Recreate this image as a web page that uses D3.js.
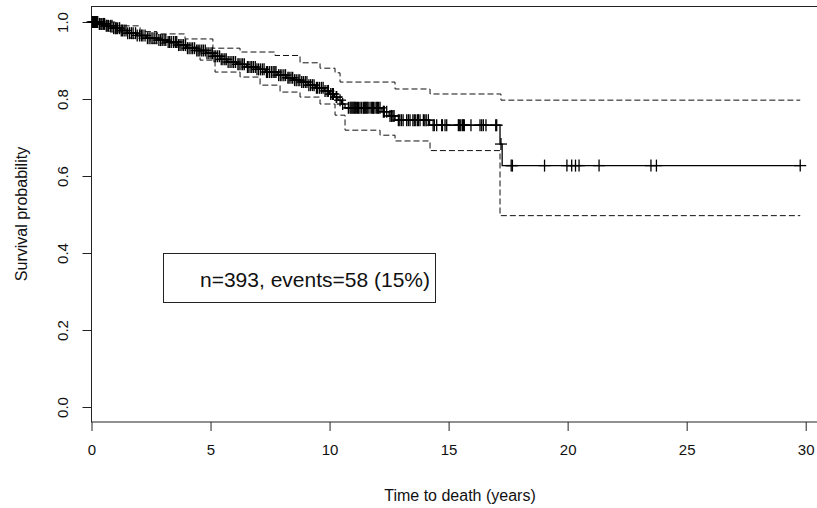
<!DOCTYPE html>
<html><head><meta charset="utf-8">
<script src="https://cdn.jsdelivr.net/npm/d3@7"></script>
<style>html,body{margin:0;padding:0;background:#fff}svg{display:block;font-family:"Liberation Sans",Arial,sans-serif}</style>
</head><body><svg id="c" width="817" height="508"></svg>
<script>
const xTicks = [0, 5, 10, 15, 20, 25, 30];
const yTicks = [0.0, 0.2, 0.4, 0.6, 0.8, 1.0];
const xTitle = "Time to death (years)";
const yTitle = "Survival probability";
const legendText = "n=393, events=58 (15%)";
const endTime = 29.77;

// Kaplan-Meier steps (time of event, survival after event)
const eventTimes = [0.3,0.6,0.9,1.2,1.5,1.9,2.3,2.8,3.2,3.6,4.0,4.4,4.8,5.1,5.4,5.7,6.1,6.5,6.9,7.3,7.8,8.2,8.5,8.8,9.1,9.4,9.8,10.0,10.2,10.35,10.5,10.65,12.2,12.5,12.75,14.2,17.16,17.25];
const survival   = [0.995,0.990,0.984,0.978,0.971,0.965,0.958,0.953,0.948,0.940,0.932,0.926,0.919,0.911,0.903,0.896,0.890,0.883,0.877,0.870,0.862,0.855,0.849,0.844,0.836,0.829,0.821,0.813,0.805,0.797,0.787,0.777,0.767,0.756,0.745,0.732,0.683,0.627];

// confidence band steps
const upperTimes  = [0,1.0,2.04,2.75,3.93,5.1,6.24,7.71,8.76,9.6,10.23,10.44,12.75,14.22,17.2];
const upperValues = [1.0,0.99,0.975,0.969,0.956,0.932,0.922,0.913,0.894,0.880,0.868,0.844,0.826,0.813,0.797];
const lowerTimes  = [0,0.3,0.78,1.62,2.46,3.51,4.56,5.19,6.24,7.08,7.92,8.76,9.6,10.23,10.65,12.12,12.75,14.22,17.16];
const lowerValues = [1.0,0.995,0.974,0.958,0.945,0.935,0.901,0.870,0.857,0.836,0.818,0.805,0.787,0.758,0.719,0.706,0.691,0.666,0.497];

// censoring times
const censorTimes = [
0.04,0.08,0.12,0.17,0.21,0.26,0.33,0.35,0.4,0.44,0.5,0.55,0.62,0.66,0.72,0.8,0.86,0.93,1.0,1.04,1.1,1.18,1.25,1.3,1.37,1.45,1.52,1.6,1.68,1.75,1.85,1.92,
2.02,2.1,2.16,2.25,2.35,2.42,2.5,2.58,2.66,2.74,2.83,2.9,2.97,3.05,3.12,3.22,3.28,3.35,3.44,3.52,3.58,3.66,3.72,3.8,3.87,3.95,4.03,4.1,4.18,4.25,4.33,4.42,4.48,4.55,4.63,4.7,4.78,4.85,4.93,
5.02,5.08,5.15,5.22,5.3,5.38,5.45,5.52,5.6,5.66,5.74,5.82,5.9,5.97,6.05,6.15,6.2,6.28,6.35,6.42,6.55,6.58,6.66,6.73,6.8,6.88,6.95,7.02,7.1,7.18,7.25,7.35,7.4,7.48,7.56,7.63,7.7,7.75,7.86,7.93,8.0,8.08,8.15,8.25,8.3,8.38,8.45,8.53,8.6,8.68,8.75,8.83,8.9,8.98,9.05,9.13,9.2,9.28,9.35,9.45,9.5,9.58,9.66,9.73,9.81,9.9,9.95,10.05,10.12,10.16,10.28,10.3,10.44,10.55,
10.79,10.86,10.9,10.94,10.98,11.02,11.06,11.08,11.14,11.18,11.22,11.28,11.35,11.42,11.46,11.5,11.54,11.58,11.62,11.7,11.77,11.81,11.85,11.91,11.98,12.02,12.06,12.12,
12.26,12.3,12.4,12.54,12.6,12.66,12.71,12.89,12.95,13.02,13.09,13.24,13.31,13.38,13.5,13.56,13.62,13.7,13.73,13.8,13.94,14.0,14.06,14.15,
14.35,14.40,14.5,14.71,14.74,14.85,14.92,15.41,15.45,15.51,15.58,15.62,15.66,15.94,16.32,16.39,16.46,16.57,16.98,17.02,
17.2,17.63,17.68,19.03,19.97,20.17,20.33,20.48,21.32,23.5,23.73,29.77];

const svg = d3.select("#c");
const x = d3.scaleLinear().domain([0, 30]).range([91.5, 805.7]);
const y = d3.scaleLinear().domain([0, 1]).range([407, 22]);
const frameLeft = 91.5, frameTop = 6.5, frameBottom = 422, frameRight = 818.5;

function stepPoints(times, values, end) {
  const pts = [];
  if (times[0] !== 0) pts.push([0, 1]);
  times.forEach((t, i) => pts.push([t, values[i]]));
  pts.push([end, values[values.length - 1]]);
  return pts;
}
const line = d3.line().x(d => x(d[0])).y(d => y(d[1])).curve(d3.curveStepAfter);

// frame
svg.append("rect").attr("x", frameLeft).attr("y", frameTop).attr("width", frameRight - frameLeft).attr("height", frameBottom - frameTop)
  .attr("fill", "none").attr("stroke", "#222").attr("stroke-width", 1);

// x axis
const gx = svg.append("g").attr("transform", `translate(0,${frameBottom})`)
  .call(d3.axisBottom(x).tickValues(xTicks).tickSize(9).tickSizeOuter(0).tickPadding(13).tickFormat(d3.format("d")));
gx.select(".domain").remove();
gx.selectAll("line").attr("stroke", "#222");
gx.selectAll("text").attr("font-size", 15).attr("font-family", "Liberation Sans, Arial, sans-serif").attr("fill", "#111");

// y axis
const gy = svg.append("g").attr("transform", `translate(${frameLeft},0)`)
  .call(d3.axisLeft(y).tickValues(yTicks).tickSize(9).tickSizeOuter(0).tickFormat(d3.format(".1f")));
gy.select(".domain").remove();
gy.selectAll("line").attr("stroke", "#222");
gy.selectAll("text")
  .attr("font-size", 15).attr("font-family", "Liberation Sans, Arial, sans-serif").attr("fill", "#111")
  .attr("x", null).attr("dy", null)
  .attr("text-anchor", "middle")
  .attr("transform", "translate(-24,0) rotate(-90)");

// titles
svg.append("text").attr("x", 460).attr("y", 501).attr("text-anchor", "middle")
  .attr("font-size", 16).attr("fill", "#111").text(xTitle);
svg.append("text").attr("transform", "translate(27,214) rotate(-90)").attr("text-anchor", "middle")
  .attr("font-size", 16).attr("fill", "#111").text(yTitle);

// confidence band
svg.append("path").datum(stepPoints(upperTimes, upperValues, endTime)).attr("d", line)
  .attr("fill", "none").attr("stroke", "#111").attr("stroke-width", 1).attr("stroke-dasharray", "6,3");
svg.append("path").datum(stepPoints(lowerTimes, lowerValues, endTime)).attr("d", line)
  .attr("fill", "none").attr("stroke", "#111").attr("stroke-width", 1).attr("stroke-dasharray", "6,3");

// KM curve
svg.append("path").datum(stepPoints(eventTimes, survival, endTime)).attr("d", line)
  .attr("fill", "none").attr("stroke", "#000").attr("stroke-width", 1.3);

// censor marks
function survAt(t) {
  let s = 1;
  for (let i = 0; i < eventTimes.length; i++) { if (eventTimes[i] <= t) s = survival[i]; else break; }
  return s;
}
const cg = svg.append("g").attr("stroke", "#000").attr("stroke-width", 1.3);
censorTimes.forEach(t => {
  const cx = x(t), cy = y(survAt(t));
  cg.append("line").attr("x1", cx).attr("x2", cx).attr("y1", cy - 6).attr("y2", cy + 6);
  cg.append("line").attr("x1", cx - 6).attr("x2", cx + 6).attr("y1", cy).attr("y2", cy);
});

// legend
svg.append("rect").attr("x", 163.5).attr("y", 253.5).attr("width", 272).attr("height", 49)
  .attr("fill", "#fff").attr("stroke", "#222").attr("stroke-width", 1);
svg.append("text").attr("x", 200).attr("y", 287).attr("font-size", 21).attr("fill", "#111").text(legendText);
</script></body></html>
